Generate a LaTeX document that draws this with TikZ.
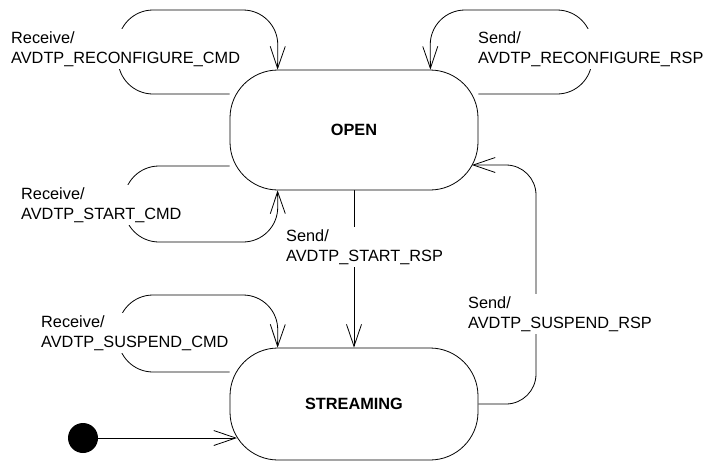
\documentclass[tikz,border=0pt]{standalone}
\usepackage{fontspec}
\setmainfont{Liberation Sans}
\usetikzlibrary{arrows.meta,backgrounds}

\tikzset{
  state/.style={draw, fill=white, line width=0.8pt, rounded corners=48pt,
    minimum width=248pt, font=\fontsize{16.3}{20}\selectfont\bfseries},
  msg/.style={fill=white, align=left, anchor=west, inner sep=2pt,
    font=\fontsize{16.3}{20}\selectfont},
  trans/.style={line width=0.8pt, rounded corners=35pt,
    -{Straight Barb[length=22pt,width=15pt]}},
}

\begin{document}
\begin{tikzpicture}[x=1pt,y=-1pt]
\useasboundingbox (0,0) rectangle (709,461);

\node[state, minimum height=120pt] (open) at (354,130) {OPEN};
\node[state, minimum height=112pt] (stream) at (354,404) {STREAMING};
\node[circle, fill, minimum size=30pt, inner sep=0pt] (init) at (83,438) {};

\coordinate (suspin) at (472,165);
\coordinate (initin) at (237,438);

\node[msg] (rcfgcmd) at (9,49) {Receive/\\AVDTP\_RECONFIGURE\_CMD};
\node[msg] (rcfgrsp) at (476,49) {Send/\\AVDTP\_RECONFIGURE\_RSP};
\node[msg] (startcmd) at (19,205) {Receive/\\AVDTP\_START\_CMD};
\node[msg] (startrsp) at (284,247) {Send/\\AVDTP\_START\_RSP};
\node[msg] (suspcmd) at (39,333) {Receive/\\AVDTP\_SUSPEND\_CMD};
\node[msg] (susprsp) at (466,314) {Send/\\AVDTP\_SUSPEND\_RSP};

% transitions, behind the boxes and the labels
\begin{scope}[on background layer]
\draw[trans] (open.west |- 0,94) -- (118,94) -- (118,10) -- (278,10) -- ([xshift=48pt]open.north west);
\draw[trans] (open.east |- 0,94) -- (592,94) -- (592,10) -- (430,10) -- ([xshift=-48pt]open.north east);
\draw[trans] (open.west |- 0,166) -- (124,166) -- (124,242) -- (278,242) -- ([xshift=48pt]open.south west);
\draw[trans] (stream.west |- 0,372) -- (118,372) -- (118,295) -- (278,295) -- ([xshift=48pt]stream.north west);
\draw[trans] (open.south) -- (stream.north);
\draw[trans, rounded corners=30pt] (stream.east) -- (536,404) -- (536,165) -- (suspin);
\draw[trans] (init) -- (initin);
\end{scope}
\end{tikzpicture}
\end{document}
